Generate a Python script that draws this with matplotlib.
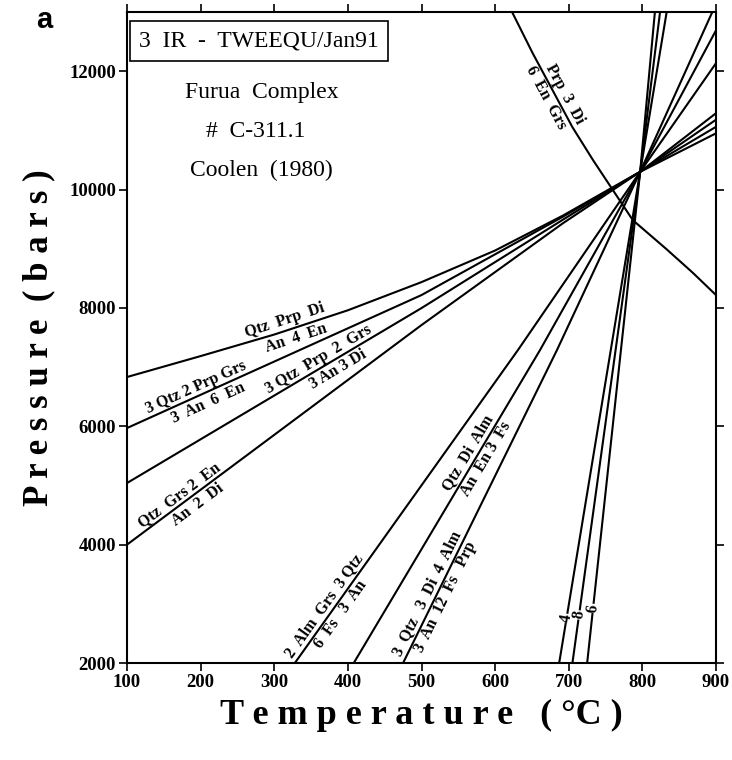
import matplotlib
matplotlib.use('Agg')
import matplotlib.pyplot as plt
import numpy as np

plt.rcParams['font.family'] = ['Liberation Serif', 'DejaVu Serif']

# --- reaction lines (T in C, P in bars) ---
# Qtz Prp Di = An 4 En
T_qpd = [100, 200, 300, 400, 500, 600, 692, 797, 900]
P_qpd = [6832, 7186, 7550, 7960, 8436, 8970, 9560, 10300, 10950]
# 3 Qtz 2 Prp Grs = 3 An 6 En
T_q2pg = [100, 500, 692, 797, 900]
P_q2pg = [5970, 8217, 9540, 10300, 11060]
# 3 Qtz Prp 2 Grs = 3 An 3 Di
T_qp2g = [100, 500, 692, 797, 900]
P_qp2g = [5041, 7997, 9490, 10300, 11180]
# Qtz Grs 2 En = An 2 Di
T_qg2e = [100, 500, 692, 797, 900]
P_qg2e = [4000, 7710, 9430, 10300, 11290]
# 2 Alm Grs 3 Qtz = 6 Fs 3 An
T_agq = [328, 631, 797, 900]
P_agq = [2000, 7288, 10300, 12135]
# Qtz Di Alm = An En 3 Fs
T_qda = [408, 661, 797, 900]
P_qda = [2000, 7288, 10300, 12690]
# 3 Qtz 3 Di 4 Alm = 3 An 12 Fs Prp
T_q3d = [475, 684, 797, 895]
P_q3d = [2000, 7288, 10300, 13000]
# steep lines labelled 4, 8, 6
T_s4 = [687, 797, 833]
P_s4 = [2000, 10300, 13000]
T_s8 = [705, 797, 824]
P_s8 = [2000, 10300, 13000]
T_s6 = [725, 797, 817]
P_s6 = [2000, 10300, 13000]
# Prp 3 Di = 6 En Grs (curved)
T_pd = [623, 651, 678, 705, 733, 760, 787, 833, 869, 900]
P_pd = [13000, 12304, 11679, 11054, 10497, 9990, 9483, 8990, 8588, 8217]

xticks = [100, 200, 300, 400, 500, 600, 700, 800, 900]
yticks = [2000, 4000, 6000, 8000, 10000, 12000]

fig = plt.figure(figsize=(7.32, 7.6), dpi=100)
ax = fig.add_axes([127/732, 1-663/760, 589/732, 651/760])
ax.set_xlim(100, 900)
ax.set_ylim(2000, 13000)

lines = [(T_qpd, P_qpd), (T_q2pg, P_q2pg), (T_qp2g, P_qp2g), (T_qg2e, P_qg2e),
         (T_agq, P_agq), (T_qda, P_qda), (T_q3d, P_q3d),
         (T_s4, P_s4), (T_s8, P_s8), (T_s6, P_s6), (T_pd, P_pd)]
for T, P in lines:
    ax.plot(T, P, 'k-', lw=1.5, solid_capstyle='butt')

ax.set_xticks(xticks)
ax.set_yticks(yticks)
ax.tick_params(direction='out', length=6, width=1.2, top=True, right=True,
               labeltop=False, labelright=False, pad=2)
for lab in ax.get_xticklabels() + ax.get_yticklabels():
    lab.set_fontsize(13.5)
    lab.set_fontweight('bold')
for sp in ax.spines.values():
    sp.set_linewidth(1.5)

ax.set_xlabel('T e m p e r a t u r e   ( °C )', fontsize=26, fontweight='bold', labelpad=6)
ax.set_ylabel('P r e s s u r e  ( b a r s )', fontsize=25, fontweight='bold', labelpad=10)


def put_label(T, P, t0, txt, side, dist=9, box=False):
    p0 = np.interp(t0, T, P)
    x0, y0 = ax.transData.transform((t0, p0))
    x1, y1 = ax.transData.transform((t0 + 1, np.interp(t0 + 1, T, P)))
    ang = np.arctan2(y1 - y0, x1 - x0)
    nx, ny = -np.sin(ang), np.cos(ang)
    kw = {}
    if box:
        kw['bbox'] = dict(fc='white', ec='none', pad=0.5)
    ax.annotate(txt, (t0, p0), xytext=(side*dist*nx, side*dist*ny),
                textcoords='offset pixels', rotation=np.degrees(ang),
                rotation_mode='anchor', ha='center', va='center',
                fontsize=11.5, fontweight='bold', **kw)


put_label(T_qpd, P_qpd, 318, 'Qtz  Prp  Di', 1, 10)
put_label(T_qpd, P_qpd, 325, 'An  4  En', -1, 10)
put_label(T_q2pg, P_q2pg, 199, '3 Qtz 2 Prp Grs', 1)
put_label(T_q2pg, P_q2pg, 205, '3  An  6  En', -1, 11)
put_label(T_qp2g, P_qp2g, 366, '3 Qtz  Prp  2  Grs', 1)
put_label(T_qp2g, P_qp2g, 380, '3 An 3 Di', -1, 10)
put_label(T_qg2e, P_qg2e, 178, 'Qtz  Grs 2  En', 1)
put_label(T_qg2e, P_qg2e, 188, 'An  2  Di', -1, 10)
put_label(T_agq, P_agq, 378, '2  Alm  Grs  3 Qtz', 1)
put_label(T_agq, P_agq, 380, '6  Fs   3  An', -1)
put_label(T_qda, P_qda, 574, 'Qtz  Di  Alm', 1)
put_label(T_qda, P_qda, 577, 'An  En 3  Fs', -1)
put_label(T_q3d, P_q3d, 519, '3  Qtz   3  Di  4  Alm', 1)
put_label(T_q3d, P_q3d, 522, '3  An  12  Fs   Prp', -1)
put_label(T_pd, P_pd, 684, 'Prp  3  Di', 1)
put_label(T_pd, P_pd, 680, '6  En  Grs', -1)
put_label(T_s4, P_s4, 697, '4', 0, box=True)
put_label(T_s8, P_s8, 714, '8', 0, box=True)
put_label(T_s6, P_s6, 733, '6', 0, box=True)

ax.text(0.224, 0.955, '3  IR  -  TWEEQU/Jan91', transform=ax.transAxes,
        ha='center', va='center', fontsize=17,
        bbox=dict(boxstyle='square,pad=0.4', fc='white', ec='black', lw=1.2))
ax.text(0.229, 0.876, 'Furua  Complex', transform=ax.transAxes, ha='center', va='center', fontsize=17)
ax.text(0.219, 0.817, '#  C-311.1', transform=ax.transAxes, ha='center', va='center', fontsize=17)
ax.text(0.228, 0.757, 'Coolen  (1980)', transform=ax.transAxes, ha='center', va='center', fontsize=17)

fig.text(44/732, 1-20/760, 'a', fontsize=21, fontweight='bold',
         family='Liberation Sans', ha='center', va='center')

fig.savefig('out.png', dpi=100)
